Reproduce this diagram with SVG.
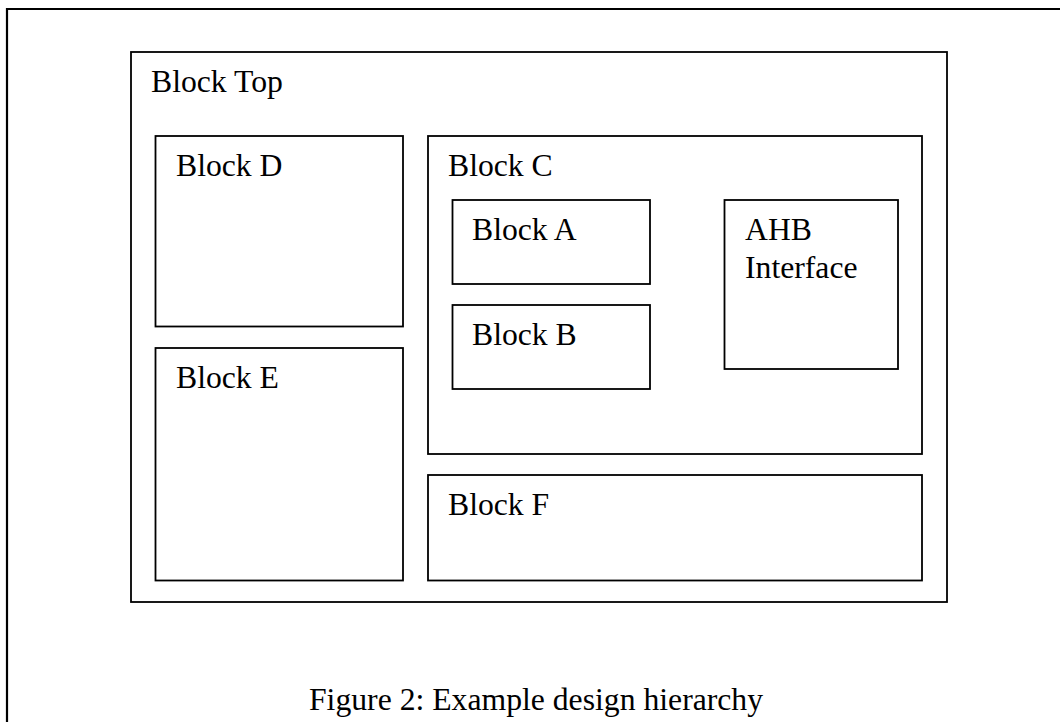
<svg xmlns="http://www.w3.org/2000/svg" width="1060" height="722" viewBox="0 0 1060 722">
<style>
.box{fill:none;stroke:#000;stroke-width:1.8}
.lbl{font-family:"Liberation Serif","Times New Roman",serif;font-size:31.7px;fill:#000}
</style>
<rect x="0" y="0" width="1060" height="722" fill="#fff"/>
<g id="frame"><path d="M7,722 V9 H1060" fill="none" stroke="#000" stroke-width="2.2"/></g>
<g id="block-top"><rect class="box" x="131" y="52" width="816" height="550"/><text class="lbl" x="151" y="92">Block Top</text></g>
<g id="block-d"><rect class="box" x="155.5" y="136" width="247.5" height="190.5"/><text class="lbl" x="176" y="176">Block D</text></g>
<g id="block-e"><rect class="box" x="155.5" y="348" width="247.5" height="232.5"/><text class="lbl" x="176" y="388">Block E</text></g>
<g id="block-c"><rect class="box" x="428" y="136" width="494" height="318"/><text class="lbl" x="448" y="176">Block C</text></g>
<g id="block-a"><rect class="box" x="452.5" y="200" width="197.5" height="84"/><text class="lbl" x="472" y="240">Block A</text></g>
<g id="block-b"><rect class="box" x="452.5" y="305" width="197.5" height="84"/><text class="lbl" x="472" y="345">Block B</text></g>
<g id="ahb"><rect class="box" x="724.5" y="200" width="173.5" height="169"/><text class="lbl" x="745" y="240">AHB</text><text class="lbl" x="745" y="278">Interface</text></g>
<g id="block-f"><rect class="box" x="428" y="475" width="494" height="105.5"/><text class="lbl" x="448" y="515">Block F</text></g>
<g id="connectors"></g>
<text class="lbl" x="309" y="710">Figure 2: Example design hierarchy</text>
</svg>
